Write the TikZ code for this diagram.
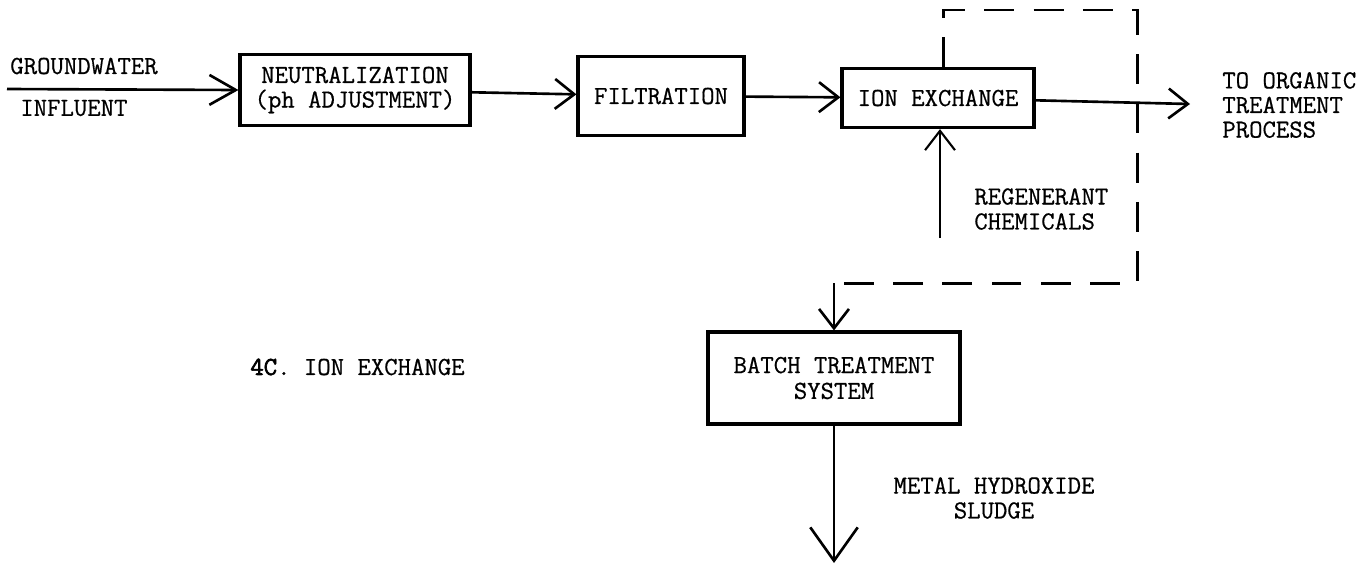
\documentclass[tikz,border=0pt]{standalone}
\usepackage{fontspec}
\setmonofont[FakeBold=0.6]{Latin Modern Mono}
\usetikzlibrary{arrows.meta}
\newcommand{\typed}[1]{\ttfamily\fontsize{14.8}{#1}\selectfont}
\tikzset{
    box/.style={draw,line width=1.8pt,align=center,inner sep=0pt,font=\typed{15}},
    flow/.style={line width=1.5pt,-{Straight Barb[length=11pt,width=17pt]}},
    loopline/.style={line width=1.7pt,dash pattern=on 17pt off 11pt},
    lbl/.style={inner sep=0pt,font=\typed{14}},
}

\begin{document}
\begin{tikzpicture}[x=0.02cm,y=-0.02cm]
    \useasboundingbox (0,0) rectangle (1371,569);

    \node[box,minimum width=4.6cm,minimum height=1.42cm,font=\typed{14}]
        (neut) at (355,90) {NEUTRALIZATION\\(ph ADJUSTMENT)};
    \node[box,minimum width=3.32cm,minimum height=1.58cm]
        (filt) at (661,96) {FILTRATION};
    \node[box,minimum width=3.84cm,minimum height=1.18cm]
        (ionx) at (938,98) {ION EXCHANGE};
    \node[box,minimum width=5.04cm,minimum height=1.84cm,font=\typed{14.7}]
        (batch) at (834,378) {BATCH TREATMENT\\SYSTEM};

    \coordinate (gw) at (7,89);
    \coordinate (out) at (1190,104);
    \coordinate (reg) at (940,238);
    \coordinate (dtl) at (943,10);
    \coordinate (dtr) at (1137,10);
    \coordinate (dbr) at (1137,283);
    \coordinate (dbl) at (834,283);
    \coordinate (sl) at (834,563);

    \draw[flow,-{Straight Barb[length=15pt,width=17pt]}] (gw) -- (neut.west);
    \draw[flow] (neut) -- (filt);
    \draw[flow] (filt) -- (ionx);
    \draw[flow] (ionx) -- (out);
    \draw[flow,line width=1.2pt] (reg) -- (reg |- ionx.south);
    \draw[loopline] (dtl |- ionx.north) -- (dtl) -- (dtr) -- (dbr) -- (dbl);
    \draw[flow] (dbl) -- (batch.north);
    \draw[flow,-{Straight Barb[length=19pt,width=27pt]}] (batch.south) -- (sl);

    \node[lbl,anchor=west] (gwtxt) at (10,66) {GROUNDWATER};
    \node[lbl,anchor=west] (inftxt) at (20,108) {INFLUENT};
    \node[lbl,anchor=west,align=left] (outtxt) at (1222,105)
        {TO ORGANIC\\TREATMENT\\PROCESS};
    \node[lbl,anchor=west,align=left,font=\typed{14.2}] (regtxt) at (974,209)
        {REGENERANT\\CHEMICALS};
    \node[lbl,align=center,font=\typed{14.2}] (sltxt) at (994,498)
        {METAL HYDROXIDE\\SLUDGE};
    \node[lbl,anchor=west] (title) at (250,367)
        {{\addfontfeature{FakeBold=2.5}4C}. ION EXCHANGE};
\end{tikzpicture}
\end{document}
